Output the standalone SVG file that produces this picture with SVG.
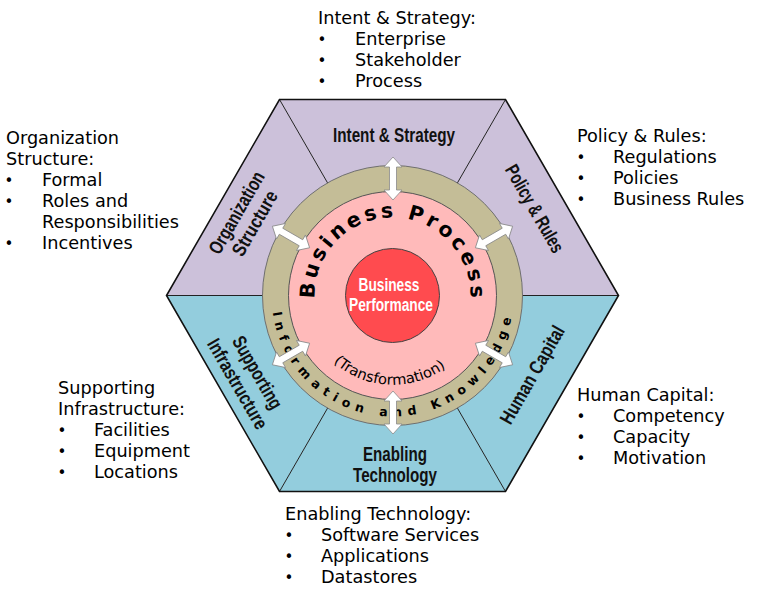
<svg xmlns="http://www.w3.org/2000/svg" xmlns:xlink="http://www.w3.org/1999/xlink" width="768" height="598" viewBox="0 0 768 598">
<style>
.list{font-family:"DejaVu Sans",Verdana,sans-serif;font-size:17.7px;fill:#000}
.bul{font-family:"DejaVu Sans",Verdana,sans-serif;font-size:15px;fill:#000;text-anchor:middle}
.seg{font-family:"Liberation Sans Narrow","Arial Narrow","Liberation Sans",Arial,sans-serif;font-weight:bold;font-size:19.5px;fill:#111;text-anchor:middle}
.perf{font-family:"Liberation Sans Narrow","Arial Narrow","Liberation Sans",Arial,sans-serif;font-weight:bold;font-size:17.5px;fill:#fff;text-anchor:middle}
.bp{font-family:"DejaVu Sans",Verdana,sans-serif;font-weight:bold;font-size:20.5px;fill:#000}
.ik{font-family:"DejaVu Sans",Verdana,sans-serif;font-weight:bold;font-size:12.5px;fill:#000}
.tr{font-family:"DejaVu Sans",Verdana,sans-serif;font-size:14.5px;fill:#000}
.purple{fill:#CCC1DA}
.blue{fill:#93CDDD}
.div{stroke:#222;stroke-width:1;fill:none}
.arrow{fill:#fff;stroke:#8a8a8a;stroke-width:0.8}
</style>
<defs>
<polygon id="dblArrow" points="-21.5,0 -11.5,-9 -11.5,-3.5 11.5,-3.5 11.5,-9 21.5,0 11.5,9 11.5,3.5 -11.5,3.5 -11.5,9"/>
<path id="bpPath" d="M314.56,298.5 A78,78 0 1 1 470.2,302.3"/>
<path id="ikPath" d="M272.7,312.3 A121,121 0 0 0 511.7,316.5"/>
<path id="trPath" d="M332.5,361.4 A89.5,89.5 0 0 0 446.4,367"/>
</defs>
<rect width="768" height="598" fill="#fff"/>

<g id="hexagon">
<polygon class="purple" points="392.5,295.5 279.5,99.5 505.5,99.5"/>
<polygon class="purple" points="392.5,295.5 505.5,99.5 618.5,295.5"/>
<polygon class="blue" points="392.5,295.5 618.5,295.5 505.5,491.5"/>
<polygon class="blue" points="392.5,295.5 505.5,491.5 279.5,491.5"/>
<polygon class="blue" points="392.5,295.5 279.5,491.5 166.5,295.5"/>
<polygon class="purple" points="392.5,295.5 166.5,295.5 279.5,99.5"/>
<line class="div" x1="279.5" y1="99.5" x2="392.5" y2="295.5"/>
<line class="div" x1="505.5" y1="99.5" x2="392.5" y2="295.5"/>
<line class="div" x1="505.5" y1="491.5" x2="392.5" y2="295.5"/>
<line class="div" x1="279.5" y1="491.5" x2="392.5" y2="295.5"/>
<line class="div" x1="166.5" y1="295.5" x2="618.5" y2="295.5"/>
<polygon points="279.5,99.5 505.5,99.5 618.5,295.5 505.5,491.5 279.5,491.5 166.5,295.5" fill="none" stroke="#111" stroke-width="1.6"/>
</g>

<g id="seg-intent"><text class="seg" x="394" y="142" textLength="122" lengthAdjust="spacingAndGlyphs">Intent &amp; Strategy</text></g>
<g id="seg-policy"><text class="seg" transform="translate(529,212) rotate(60)" x="0" y="0" textLength="98" lengthAdjust="spacingAndGlyphs">Policy &amp; Rules</text></g>
<g id="seg-human"><text class="seg" transform="translate(538,378) rotate(-60)" x="0" y="0" textLength="110" lengthAdjust="spacingAndGlyphs">Human Capital</text></g>
<g id="seg-enabling"><text class="seg" x="395" y="461" textLength="64" lengthAdjust="spacingAndGlyphs">Enabling</text><text class="seg" x="395" y="482" textLength="84" lengthAdjust="spacingAndGlyphs">Technology</text></g>
<g id="seg-supporting" transform="translate(241.7,381.5) rotate(60)"><text class="seg" x="0" y="-11.5" textLength="81" lengthAdjust="spacingAndGlyphs">Supporting</text><text class="seg" x="0" y="11.5" textLength="101" lengthAdjust="spacingAndGlyphs">Infrastructure</text></g>
<g id="seg-organization" transform="translate(251,221) rotate(-60)"><text class="seg" x="0" y="-10" textLength="92" lengthAdjust="spacingAndGlyphs">Organization</text><text class="seg" x="0" y="11" textLength="72" lengthAdjust="spacingAndGlyphs">Structure</text></g>

<g id="information-knowledge-ring">
<circle cx="392.5" cy="295.5" r="130" fill="#C4BD97" stroke="#6f6f6f" stroke-width="1"/>
<text class="ik"><textPath xlink:href="#ikPath" href="#ikPath" textLength="340" lengthAdjust="spacing">Information and Knowledge</textPath></text>
</g>

<g id="business-process">
<circle cx="392.5" cy="295.5" r="104" fill="#FFBABA" stroke="#555" stroke-width="1"/>
<text class="bp"><textPath xlink:href="#bpPath" href="#bpPath" textLength="250" lengthAdjust="spacing">Business Process</textPath></text>
<text class="tr"><textPath xlink:href="#trPath" href="#trPath" startOffset="1" textLength="122" lengthAdjust="spacingAndGlyphs">(Transformation)</textPath></text>
</g>

<g id="business-performance">
<circle cx="392.5" cy="295.5" r="47" fill="#FF4B4F" stroke="#444" stroke-width="1"/>
<text class="perf" x="389" y="291" textLength="61" lengthAdjust="spacingAndGlyphs">Business</text>
<text class="perf" x="391" y="311" textLength="84" lengthAdjust="spacingAndGlyphs">Performance</text>
</g>

<g id="connectors">
<use href="#dblArrow" xlink:href="#dblArrow" class="arrow" transform="translate(393,178.5) rotate(-90)"/>
<use href="#dblArrow" xlink:href="#dblArrow" class="arrow" transform="translate(494,237) rotate(-30)"/>
<use href="#dblArrow" xlink:href="#dblArrow" class="arrow" transform="translate(494,354) rotate(30)"/>
<use href="#dblArrow" xlink:href="#dblArrow" class="arrow" transform="translate(393,412.5) rotate(90)"/>
<use href="#dblArrow" xlink:href="#dblArrow" class="arrow" transform="translate(291,354) rotate(150)"/>
<use href="#dblArrow" xlink:href="#dblArrow" class="arrow" transform="translate(291,237) rotate(210)"/>
</g>

<g id="list-intent">
<text class="list" x="318" y="24">Intent &amp; Strategy:</text>
<text class="bul" x="322" y="45">•</text><text class="list" x="355" y="45">Enterprise</text>
<text class="bul" x="322" y="66">•</text><text class="list" x="355" y="66">Stakeholder</text>
<text class="bul" x="322" y="87">•</text><text class="list" x="355" y="87">Process</text>
</g>
<g id="list-organization">
<text class="list" x="6" y="144">Organization</text>
<text class="list" x="6" y="165">Structure:</text>
<text class="bul" x="9" y="186">•</text><text class="list" x="42" y="186">Formal</text>
<text class="bul" x="9" y="207">•</text><text class="list" x="42" y="207">Roles and</text>
<text class="list" x="42" y="228">Responsibilities</text>
<text class="bul" x="9" y="249">•</text><text class="list" x="42" y="249">Incentives</text>
</g>
<g id="list-policy">
<text class="list" x="577" y="142">Policy &amp; Rules:</text>
<text class="bul" x="581" y="163">•</text><text class="list" x="613" y="163">Regulations</text>
<text class="bul" x="581" y="184">•</text><text class="list" x="613" y="184">Policies</text>
<text class="bul" x="581" y="205">•</text><text class="list" x="613" y="205">Business Rules</text>
</g>
<g id="list-supporting">
<text class="list" x="58" y="394">Supporting</text>
<text class="list" x="58" y="415">Infrastructure:</text>
<text class="bul" x="62" y="436">•</text><text class="list" x="94" y="436">Facilities</text>
<text class="bul" x="62" y="457">•</text><text class="list" x="94" y="457">Equipment</text>
<text class="bul" x="62" y="478">•</text><text class="list" x="94" y="478">Locations</text>
</g>
<g id="list-human">
<text class="list" x="577" y="401">Human Capital:</text>
<text class="bul" x="581" y="422">•</text><text class="list" x="613" y="422">Competency</text>
<text class="bul" x="581" y="443">•</text><text class="list" x="613" y="443">Capacity</text>
<text class="bul" x="581" y="464">•</text><text class="list" x="613" y="464">Motivation</text>
</g>
<g id="list-enabling">
<text class="list" x="285" y="520">Enabling Technology:</text>
<text class="bul" x="289" y="541">•</text><text class="list" x="321" y="541">Software Services</text>
<text class="bul" x="289" y="562">•</text><text class="list" x="321" y="562">Applications</text>
<text class="bul" x="289" y="583">•</text><text class="list" x="321" y="583">Datastores</text>
</g>
</svg>
